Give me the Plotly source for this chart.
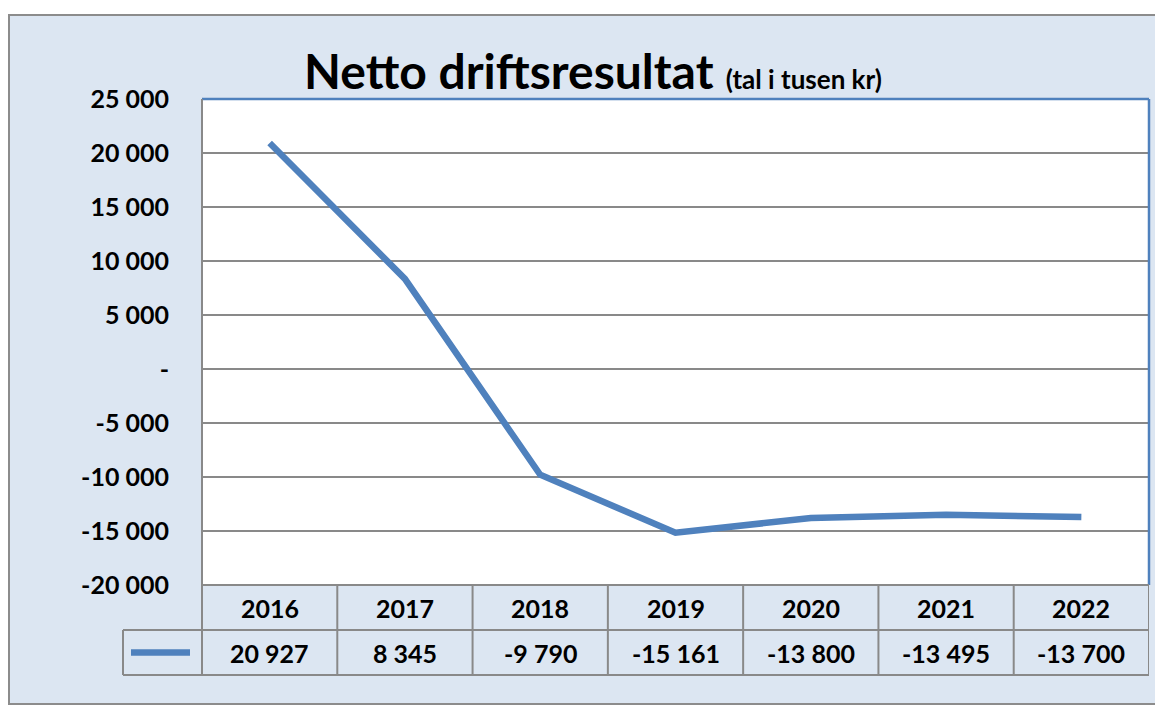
import plotly.graph_objects as go

# ---- data ----
years = ["2016", "2017", "2018", "2019", "2020", "2021", "2022"]
values = [20927, 8345, -9790, -15161, -13800, -13495, -13700]
value_labels = ["20 927", "8 345", "-9 790", "-15 161", "-13 800", "-13 495", "-13 700"]
y_tickvals = [25000, 20000, 15000, 10000, 5000, 0, -5000, -10000, -15000, -20000]
y_ticktext = ["25 000", "20 000", "15 000", "10 000", "5 000", "-", "-5 000", "-10 000", "-15 000", "-20 000"]

# ---- geometry helpers (screen pixels -> paper) ----
OFF = 8                      # page body margin
W, H = 1163, 706 - OFF
def px(x):
    return (x - OFF) / W
def py(y):
    return 1 - (y - OFF) / H

PLOT_L, PLOT_R, PLOT_T, PLOT_B = 202, 1149, 99, 585
ROW1_B, ROW2_B = 630, 675
LEG_L = 123

FONT = "Lato"
BG = "#DCE6F2"
GRID = "#898989"
BLUE = "#4F81BD"

x_idx = list(range(len(years)))

fig = go.Figure()
fig.add_trace(go.Scatter(
    x=x_idx, y=values, mode="lines",
    line=dict(color=BLUE, width=6.5),
    hoverinfo="skip", showlegend=False,
))

shapes = []
# outer chart area
shapes.append(dict(type="rect", xref="paper", yref="paper",
                   x0=px(9), y0=py(704), x1=px(1185), y1=py(15),
                   fillcolor=BG, line=dict(color="#8C8C8C", width=2), layer="below"))
# plot area white
shapes.append(dict(type="rect", xref="paper", yref="paper",
                   x0=px(PLOT_L), y0=py(PLOT_B), x1=px(PLOT_R), y1=py(PLOT_T),
                   fillcolor="white", line=dict(width=0), layer="below"))
# blue top and right border of plot area
shapes.append(dict(type="line", xref="paper", yref="paper",
                   x0=px(PLOT_L), y0=py(PLOT_T), x1=px(PLOT_R), y1=py(PLOT_T),
                   line=dict(color=BLUE, width=2.5)))
shapes.append(dict(type="line", xref="paper", yref="paper",
                   x0=px(PLOT_R), y0=py(PLOT_T), x1=px(PLOT_R), y1=py(PLOT_B),
                   line=dict(color=BLUE, width=2.5)))
# left axis line of plot area and table
shapes.append(dict(type="line", xref="paper", yref="paper",
                   x0=px(PLOT_L), y0=py(PLOT_T), x1=px(PLOT_L), y1=py(ROW2_B),
                   line=dict(color=GRID, width=2)))
# table horizontal lines
shapes.append(dict(type="line", xref="paper", yref="paper",
                   x0=px(PLOT_L), y0=py(PLOT_B), x1=px(PLOT_R), y1=py(PLOT_B),
                   line=dict(color=GRID, width=2)))
for yy in (ROW1_B, ROW2_B):
    shapes.append(dict(type="line", xref="paper", yref="paper",
                       x0=px(LEG_L), y0=py(yy), x1=px(PLOT_R), y1=py(yy),
                       line=dict(color=GRID, width=2)))
# legend cell left line
shapes.append(dict(type="line", xref="paper", yref="paper",
                   x0=px(LEG_L), y0=py(ROW1_B), x1=px(LEG_L), y1=py(ROW2_B),
                   line=dict(color=GRID, width=2)))
# table vertical lines between categories
for i in range(1, len(years) + 1):
    shapes.append(dict(type="line", xref="x", yref="paper",
                       x0=i - 0.5, x1=i - 0.5, y0=py(PLOT_B), y1=py(ROW2_B),
                       line=dict(color=GRID, width=2)))
# legend key
shapes.append(dict(type="line", xref="paper", yref="paper",
                   x0=px(131), x1=px(190), y0=py(652.5), y1=py(652.5),
                   line=dict(color=BLUE, width=6.5)))

annotations = []
# title
annotations.append(dict(
    xref="paper", yref="paper", x=px(593), y=py(70), xanchor="center", yanchor="middle",
    text="<b>Netto driftsresultat</b> <b><span style='font-size:26px'>(tal i tusen kr)</span></b>",
    showarrow=False, font=dict(family=FONT, size=48, color="black"),
))
for i, (yr, lab) in enumerate(zip(years, value_labels)):
    annotations.append(dict(xref="x", yref="paper", x=i, y=py((PLOT_B + ROW1_B) / 2),
                            text="<b>" + yr + "</b>", showarrow=False,
                            xanchor="center", yanchor="middle",
                            font=dict(family=FONT, size=25, color="black")))
    annotations.append(dict(xref="x", yref="paper", x=i, y=py((ROW1_B + ROW2_B) / 2),
                            text="<b>" + lab + "</b>", showarrow=False,
                            xanchor="center", yanchor="middle",
                            font=dict(family=FONT, size=25, color="black")))

fig.update_layout(
    template="none",
    width=W, height=H,
    margin=dict(l=0, r=0, t=0, b=0, pad=0, autoexpand=False),
    paper_bgcolor="white",
    plot_bgcolor="white",
    showlegend=False,
    shapes=shapes,
    annotations=annotations,
    xaxis=dict(domain=[px(PLOT_L), px(PLOT_R)], range=[-0.5, len(years) - 0.5],
               showgrid=False, zeroline=False, showticklabels=False, showline=False,
               automargin=False, fixedrange=True),
    yaxis=dict(domain=[py(PLOT_B), py(PLOT_T)], range=[-20000, 25000],
               tickvals=y_tickvals, ticktext=[f"<b>{t}</b>" for t in y_ticktext],
               tickfont=dict(family=FONT, size=25, color="black"),
               showgrid=True, gridcolor=GRID, gridwidth=2,
               zeroline=False, showline=False, ticks="",
               ticklabelstandoff=32, automargin=False, fixedrange=True),
)

fig.write_html("out.html")
